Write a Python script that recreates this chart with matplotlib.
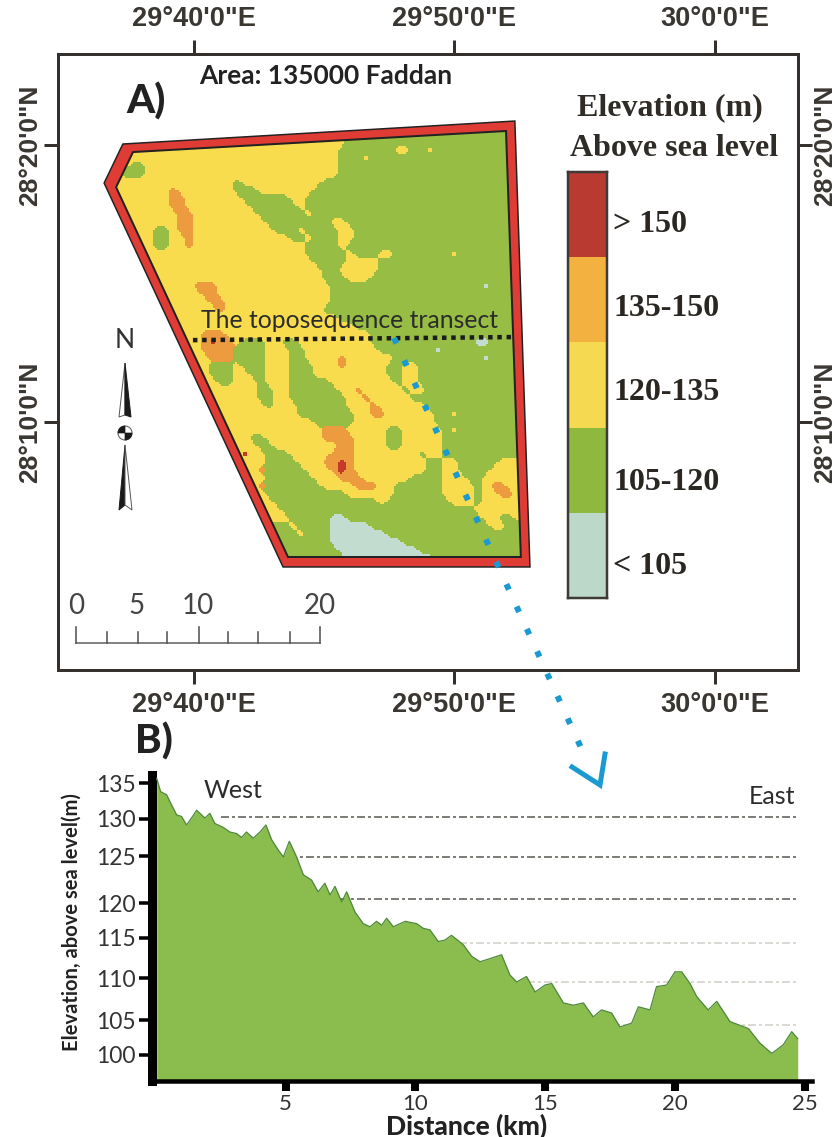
import numpy as np
import matplotlib
matplotlib.use("Agg")
import matplotlib.pyplot as plt
from matplotlib.colors import ListedColormap
from matplotlib.patches import Polygon, Circle, Wedge

W, H = 840, 1137
PX = 0.72  # points per pixel at dpi 100

# ---------------- data: map A ----------------
lon_ticks = [40, 50, 60]            # minutes east of 29 deg
lon_labels = ["29°40'0\"E", "29°50'0\"E", "30°0'0\"E"]
lat_ticks = [10, 20]                # minutes north of 28 deg
lat_labels = ["28°10'0\"N", "28°20'0\"N"]
map_xlim = (34.78, 63.19)
map_ylim = (1.05, 23.29)

boundary_outer = [(37.27, 20.04), (52.32, 20.87), (52.90, 4.77), (43.42, 4.77), (36.55, 18.63)]
boundary_inner = [(37.66, 19.75), (51.98, 20.51), (52.55, 5.13), (43.61, 5.13), (37.01, 18.48)]
raster_extent = (36.59, 52.87, 4.66, 20.83)
transect_lon = [39.96, 52.21]
transect_lat = [12.96, 13.07]

class_names = ["< 105", "105-120", "120-135", "135-150", "> 150"]
class_letters = "lgyor"
map_colors = ["#c2dccf", "#97bd45", "#f8dc4e", "#ec9c3e", "#c43a2a"]
legend_colors = ["#bcd8c8", "#8fb83f", "#f5d94e", "#f3b23f", "#b93a30"]

# elevation classes, one string per raster row, north to south:
# each token = class letter + column where that run ends
class_rows = [
    "g53", "y20 g53", "y30 g53", "y29 g36 y38 g40 y41 g53", "y29 g32 y33 g53",
    "y3 g5 y29 g53", "y2 g5 y29 g53", "y16 g17 y27 g53", "y8 o9 y16 g19 y26 g53",
    "y8 o10 y17 g23 y25 g53", "y8 o10 y18 g24 y25 g53", "y9 o11 y19 g25 y26 g53",
    "y9 o11 y20 g28 y30 g53", "y6 g8 y9 o11 y21 g24 y25 g29 y31 g53",
    "y6 g8 y10 o11 y23 g25 y26 g29 y31 g53", "y6 g8 y10 o11 y25 g29 y30 g53",
    "y25 g30 y31 g34 y36 g43 y44 g53", "y26 g30 y34 g53", "y27 g29 y34 g53",
    "y27 g30 y33 g53", "y11 o14 y28 g47 l48 g53", "y12 o14 y28 g53",
    "y13 o15 y28 g53", "y14 o15 y27 g53", "y29 g53", "y31 g53", "y12 o15 y33 g53",
    "y12 o13 r14 o16 y17 g20 y22 g24 y33 g46 l48 g53",
    "y12 o16 g20 y23 g25 y34 g41 l42 g53",
    "y13 o16 g20 y23 g25 y29 o30 y36 g47 l48 g53",
    "y13 g16 y17 g20 y23 g26 y29 o30 y35 g37 y39 g53",
    "y13 g16 y18 g20 y23 g26 y35 g37 y39 g53",
    "y14 g16 y19 g20 y23 g28 y36 g37 y39 g53",
    "y19 g21 y23 g29 y31 o32 y37 g38 y40 g53",
    "y19 g21 y23 g30 y32 o33 y38 g53", "y20 g21 y24 g30 y33 o34 y40 g53",
    "y24 g31 y33 o35 y41 g43 y44 g53", "y26 g31 y41 g53",
    "y27 o30 y35 g37 y42 g43 y44 g53", "y18 g20 y27 o31 y35 g37 y42 g53",
    "y19 g21 y29 o31 y35 g37 y42 g53", "y17 r18 y20 g23 y28 o31 y39 g40 y42 g53",
    "y20 g24 y27 o29 r30 o31 y40 g42 y44 g49 y53",
    "y19 o20 g25 y28 o29 r30 o31 y40 g42 y44 g48 y53",
    "y20 g26 y29 o32 y38 g42 y45 g47 y53",
    "y19 o20 g27 y31 o34 y36 g42 y46 g47 y48 o50 y53",
    "y20 g30 y36 g42 y46 g47 y49 o51 y53", "y21 g34 y35 g43 y46 g47 y52 g53",
    "y22 g46 y53", "y23 g28 l30 g47 y49 g51 y52 g53",
    "g23 y24 g28 l33 g48 y50 g53", "g24 y25 g28 l35 g53",
    "g28 l37 g53", "g29 l39 g53", "g30 l41 g53", "g53",
]

# ---------------- data: profile B ----------------
distance_km = [0.03, 0.18, 0.41, 0.60, 0.80, 0.99, 1.18, 1.37, 1.57, 1.76, 1.89, 2.08, 2.27, 2.59,
               2.85, 3.11, 3.30, 3.49, 3.75, 4.01, 4.24, 4.46, 4.71, 4.91, 5.14, 5.42, 5.68, 6.00,
               6.25, 6.51, 6.71, 6.90, 7.16, 7.35, 7.67, 7.99, 8.25, 8.50, 8.70, 8.89, 9.15, 9.60,
               10.05, 10.30, 10.56, 10.88, 11.14, 11.39, 11.84, 12.17, 12.49, 12.87, 13.32, 13.64,
               13.90, 14.28, 14.61, 14.99, 15.25, 15.70, 16.08, 16.47, 16.85, 17.17, 17.56, 17.88,
               18.33, 18.59, 19.04, 19.29, 19.68, 20.00, 20.26, 20.58, 20.84, 21.28, 21.61, 22.12,
               22.83, 23.28, 23.73, 24.17, 24.50, 24.73]
elevation_m = [135.6, 133.9, 133.5, 132.2, 130.9, 130.7, 129.6, 130.5, 131.5, 130.9, 130.5, 131.1,
               129.8, 129.3, 128.7, 128.5, 128.0, 128.7, 127.9, 128.7, 129.6, 127.7, 126.4, 125.5,
               127.5, 125.5, 123.2, 122.5, 121.0, 122.1, 120.6, 121.7, 119.7, 121.0, 118.4, 116.9,
               116.5, 117.2, 116.7, 117.6, 116.5, 117.2, 116.9, 116.3, 116.1, 114.6, 114.8, 115.4,
               114.2, 112.7, 112.0, 112.4, 112.9, 110.3, 109.4, 110.1, 108.1, 109.0, 109.2, 106.7,
               106.4, 106.7, 104.9, 105.8, 105.4, 103.6, 104.1, 106.2, 105.8, 108.8, 109.0, 110.7,
               110.7, 109.2, 107.5, 105.8, 106.9, 104.3, 103.4, 101.5, 100.2, 101.3, 103.0, 102.1]
x_ticks = [5, 10, 15, 20, 25]
# as in the source figure, the hand-placed y labels are not quite evenly spaced
y_tick_pos = [100, 104.5, 109.9, 115.06, 119.56, 125.6, 130.4, 135]
y_tick_labels = ["100", "105", "110", "115", "120", "125", "130", "135"]
ref_dark = [130.6, 125.5, 120.1]
ref_faint = [114.4, 109.4, 103.9]

scale_labels = ["0", "5", "10", "20"]

# ---------------- figure ----------------
fig = plt.figure(figsize=(W / 100, H / 100), dpi=100, facecolor="white")


def rect(l, t, r, b):
    return [l / W, 1 - b / H, (r - l) / W, (b - t) / H]


FRAME = "#35302b"
LAB = "#3a3632"

# ---- map axes ----
ax = fig.add_axes(rect(58, 54, 798, 670))
ax.set_xlim(*map_xlim)
ax.set_ylim(*map_ylim)
for s in ax.spines.values():
    s.set_linewidth(3 * PX)
    s.set_color(FRAME)
ax.set_xticks(lon_ticks, lon_labels)
ax.set_yticks(lat_ticks, lat_labels)
ax.tick_params(axis="both", direction="out", length=14 * PX, width=3 * PX, color=FRAME,
               top=True, right=True, labeltop=True, labelright=True, labelcolor=LAB,
               labelsize=19.5)
ax.tick_params(axis="x", pad=8 * PX)
ax.tick_params(axis="y", pad=1.5 * PX, labelsize=19)
for t in ax.yaxis.get_major_ticks():
    for lab in (t.label1, t.label2):
        lab.set_rotation(90)
        lab.set_va("center")
        lab.set_family("Liberation Sans")
        lab.set_fontweight("bold")
for t in ax.xaxis.get_major_ticks():
    for lab in (t.label1, t.label2):
        lab.set_family("Liberation Sans")
        lab.set_fontweight("bold")

# raster classes, softened a little so the cells read as terrain
grid = np.zeros((len(class_rows), 53), dtype=int)
for i, row in enumerate(class_rows):
    start = 0
    for tok in row.split():
        end = int(tok[1:])
        grid[i, start:end] = class_letters.index(tok[0])
        start = end
f = 4
hot = np.stack([np.repeat(np.repeat(grid == k, f, axis=0), f, axis=1).astype(float)
                for k in range(5)])
ker = np.ones(f + 1) / (f + 1)
for k in range(5):
    hot[k] = np.apply_along_axis(lambda v: np.convolve(v, ker, mode="same"), 0, hot[k])
    hot[k] = np.apply_along_axis(lambda v: np.convolve(v, ker, mode="same"), 1, hot[k])
smooth = hot.argmax(axis=0)

ax.add_patch(Polygon(boundary_outer, closed=True, fc="#e03c36", ec="#222222", lw=1.5 * PX, zorder=2))
im = ax.imshow(smooth, extent=raster_extent, cmap=ListedColormap(map_colors), vmin=-0.5, vmax=4.5,
               interpolation="nearest", aspect="auto", zorder=3)
clip = Polygon(boundary_inner, closed=True, transform=ax.transData)
im.set_clip_path(clip)
ax.add_patch(Polygon(boundary_inner, closed=True, fc="none", ec="#222222", lw=2 * PX, zorder=4))
ax.set_xlim(*map_xlim)
ax.set_ylim(*map_ylim)
ax.plot(transect_lon, transect_lat, color="#1c1c1c", lw=4.5 * PX, ls=(0, (1.0, 1.05)), zorder=5)

# ---- legend column ----
lg = fig.add_axes(rect(568, 172, 607, 598))
lg.set_xlim(0, 1)
lg.set_ylim(0, 5)
lg.bar([0.5] * 5, [1] * 5, width=1, bottom=np.arange(5), color=legend_colors)
lg.set_xticks([])
lg.set_yticks([])
for s in lg.spines.values():
    s.set_linewidth(2.5 * PX)
    s.set_color("#3e3a35")

# ---- profile axes ----
xl = (-0.17, 25.28)
yl = (96.65, 136.04)
pr = fig.add_axes(rect(151.5, 775, 812, 1081))
pr.set_xlim(*xl)
pr.set_ylim(*yl)
pr.patch.set_alpha(0)
pr.hlines(ref_dark, 2.5, distance_km[-1], color="#7f7f7a", lw=2 * PX, ls=(0, (4, 1.5, 1.5, 1.5)), zorder=1)
pr.hlines(ref_faint, 2.5, distance_km[-1], color="#dcd8d4", lw=2 * PX, ls=(0, (4, 1.5, 1.5, 1.5)), zorder=1)
pr.fill_between(distance_km, yl[0], elevation_m, color="#8abd4e", lw=0, zorder=2)
pr.plot(distance_km, elevation_m, color="#4f8a3a", lw=1.3 * PX, zorder=3)
for k in ("top", "right"):
    pr.spines[k].set_visible(False)
pr.spines["left"].set_linewidth(9 * PX)
pr.spines["bottom"].set_linewidth(4.5 * PX)
pr.set_xticks(x_ticks, [str(v) for v in x_ticks])
pr.set_yticks(y_tick_pos, y_tick_labels)
pr.tick_params(axis="x", length=10 * PX, width=8 * PX, labelsize=16, pad=2, labelcolor="#333333")
pr.tick_params(axis="y", length=13 * PX, width=3.5 * PX, labelsize=16.5, pad=2, labelcolor="#333333")
for lab in pr.get_xticklabels() + pr.get_yticklabels():
    lab.set_family("Lato")

# ---- overlay in pixel coordinates for annotations ----
ov = fig.add_axes([0, 0, 1, 1], zorder=20)
ov.set_xlim(0, W)
ov.set_ylim(H, 0)
ov.axis("off")

BLUE = "#1a9ad0"
ov.plot([394, 588], [338, 763], color=BLUE, lw=6 * PX, ls=(0, (1, 3.1)), zorder=6)
ov.plot([572, 600, 605], [767, 785, 754], color=BLUE, lw=5 * PX, solid_joinstyle="miter", zorder=6)

ov.text(199, 76, "Area: 135000 Faddan", family="Lato", weight="bold", fontsize=19, color="#222222",
        ha="left", va="center")
ov.text(126, 101, "A)", family="Lato", weight="black", fontsize=29, color="#222222", ha="left", va="center")
ov.text(135, 741, "B)", family="Lato", weight="black", fontsize=29, color="#222222", ha="left", va="center")
ov.text(201, 320, "The toposequence transect", family="Lato", fontsize=17.8, color="#2c2c2c",
        ha="left", va="center")
ov.text(670, 108, "Elevation (m)", family="Liberation Serif", weight="bold", fontsize=23, color="#2f2b27",
        ha="center", va="center")
ov.text(674, 148, "Above sea level", family="Liberation Serif", weight="bold", fontsize=23, color="#2f2b27",
        ha="center", va="center")
for name, y in zip(class_names, [566, 482, 392, 309, 225]):
    ov.text(613, y, name, family="Liberation Serif", weight="bold", fontsize=23, color="#2a2622",
            ha="left", va="center")

ov.text(204, 790, "West", family="Lato", fontsize=18, color="#2c2c2c", ha="left", va="center")
ov.text(795, 797, "East", family="Lato", fontsize=18, color="#2c2c2c", ha="right", va="center")
ov.text(467, 1126, "Distance (km)", family="Lato", weight="black", fontsize=19, color="#222222",
        ha="center", va="center")
ov.text(72, 922, "Elevation, above sea level(m)", family="Lato", weight="bold",
        fontsize=14.5, color="#222222", rotation=90, ha="center", va="center")

# scale bar
for lab, x in zip(scale_labels, [76, 137, 198, 320]):
    ov.text(x, 606, lab, family="Lato", fontsize=20, color="#444444", ha="center", va="center")
ov.plot([76, 320], [643, 643], color="#666666", lw=1.6 * PX)
for x, top in zip([76, 107, 138, 167, 199, 228, 258, 290, 320],
                  [627, 632, 632, 632, 627, 632, 632, 632, 627]):
    ov.plot([x, x], [top, 643], color="#555555", lw=1.6 * PX)

# north arrow
ov.text(125, 341, "N", family="Lato", fontsize=19, color="#333333", ha="center", va="center")
k = "#1a1a1a"
ov.add_patch(Polygon([(125, 363), (119, 417), (125, 415)], fc="white", ec="#555555", lw=0.7))
ov.add_patch(Polygon([(125, 363), (131, 417), (125, 415)], fc=k, ec=k, lw=0.7))
ov.add_patch(Polygon([(125, 445), (119, 510), (125, 505)], fc=k, ec=k, lw=0.7))
ov.add_patch(Polygon([(125, 445), (132, 510), (125, 505)], fc="white", ec="#555555", lw=0.7))
ov.add_patch(Circle((125, 433), 7, fc="white", ec="#666666", lw=0.8))
ov.add_patch(Wedge((125, 433), 7, 0, 90, fc=k, ec=k, lw=0.5))
ov.add_patch(Wedge((125, 433), 7, 180, 270, fc=k, ec=k, lw=0.5))

fig.savefig("out.png", dpi=100)
